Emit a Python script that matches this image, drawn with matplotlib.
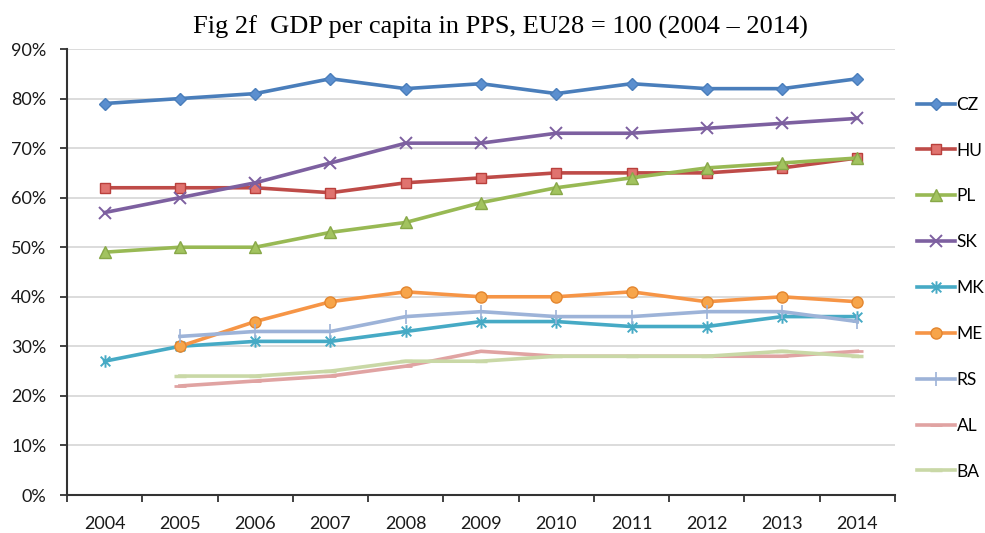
import matplotlib
matplotlib.use('Agg')
import matplotlib.pyplot as plt
import numpy as np
from matplotlib.path import Path
from matplotlib.ticker import FuncFormatter, MultipleLocator

years = ['2004', '2005', '2006', '2007', '2008', '2009', '2010', '2011', '2012', '2013', '2014']

# GDP per capita in PPS, EU28 = 100 (None = no data)
cz = [79, 80, 81, 84, 82, 83, 81, 83, 82, 82, 84]
hu = [62, 62, 62, 61, 63, 64, 65, 65, 65, 66, 68]
pl = [49, 50, 50, 53, 55, 59, 62, 64, 66, 67, 68]
sk = [57, 60, 63, 67, 71, 71, 73, 73, 74, 75, 76]
mk = [27, 30, 31, 31, 33, 35, 35, 34, 34, 36, 36]
me = [None, 30, 35, 39, 41, 40, 40, 41, 39, 40, 39]
rs = [None, 32, 33, 33, 36, 37, 36, 36, 37, 37, 35]
al = [None, 22, 23, 24, 26, 29, 28, 28, 28, 28, 29]
ba = [None, 24, 24, 25, 27, 27, 28, 28, 28, 29, 28]

# asterisk marker: x with a vertical stroke
asterisk = Path([(-1, -1), (1, 1), (-1, 1), (1, -1), (0, -1.3), (0, 1.3)],
                [Path.MOVETO, Path.LINETO, Path.MOVETO, Path.LINETO, Path.MOVETO, Path.LINETO])

series = [
    ('CZ', cz, dict(color='#4A7EBB', marker='D', ms=6, mfc='#5B8FCF', mec='#4A7EBB')),
    ('HU', hu, dict(color='#BE4B48', marker='s', ms=7.5, mfc='#E0736F', mec='#B9403C')),
    ('PL', pl, dict(color='#98B954', marker='^', ms=8, mfc='#A2C35F', mec='#88A848')),
    ('SK', sk, dict(color='#7D60A0', marker='x', ms=8, mec='#7D60A0', mew=1.4)),
    ('MK', mk, dict(color='#46AAC5', marker=asterisk, ms=9, mec='#46AAC5', mew=1.4)),
    ('ME', me, dict(color='#F69546', marker='o', ms=8, mfc='#F7A54A', mec='#E3862F')),
    ('RS', rs, dict(color='#9DB3D8', marker='|', ms=10, mec='#9DB3D8', mew=1.2)),
    ('AL', al, dict(color='#E0A3A2', marker='_', ms=8, mec='#E0A3A2', mew=2)),
    ('BA', ba, dict(color='#C9D8A6', marker='_', ms=8, mec='#C9D8A6', mew=2.5)),
]

fig = plt.figure(figsize=(9.85, 5.33), dpi=100)
ax = fig.add_axes([67 / 985, 1 - 495 / 533, (895 - 67) / 985, (495 - 49) / 533])

x = np.arange(len(years))
for name, vals, style in series:
    v = np.array([np.nan if val is None else val for val in vals], dtype=float)
    ax.plot(x, v, label=name, lw=2.6, solid_joinstyle='round', **style)

ax.set_xlim(-0.5, len(years) - 0.5)
ax.set_ylim(0, 90)
ax.yaxis.set_major_locator(MultipleLocator(10))
ax.yaxis.set_major_formatter(FuncFormatter(lambda v, p: f'{v:.0f}%'))
ax.set_xticks(x)
ax.set_xticklabels(years)
ax.set_xticks(np.arange(-0.5, len(years), 1), minor=True)
ax.tick_params(axis='x', which='major', length=0, pad=15)
ax.tick_params(axis='x', which='minor', length=5, width=1.3, color='#333333')
ax.tick_params(axis='y', length=5, width=1.3, color='#333333', pad=10)
for lbl in ax.get_xticklabels() + ax.get_yticklabels():
    lbl.set_family('Lato')
    lbl.set_fontsize(13)
    lbl.set_color('#1a1a1a')

ax.grid(axis='y', color='#D9D9D9', lw=1.3)
ax.set_axisbelow(True)
for s in ['top', 'right']:
    ax.spines[s].set_visible(False)
for s in ['left', 'bottom']:
    ax.spines[s].set_color('#333333')
    ax.spines[s].set_linewidth(1.5)

fig.text(0.508, 1 - 27 / 533, 'Fig 2f  GDP per capita in PPS, EU28 = 100 (2004 \u2013 2014)',
         ha='center', va='center', family='Liberation Serif', fontsize=19)

leg = fig.legend(loc='upper left', bbox_to_anchor=(908 / 985, 1 - 88 / 533), frameon=False,
                 prop={'family': 'Lato', 'size': 12.5}, labelspacing=1.72,
                 handlelength=2.2, handletextpad=0.1, borderpad=0)

fig.savefig('out.png', dpi=100)
